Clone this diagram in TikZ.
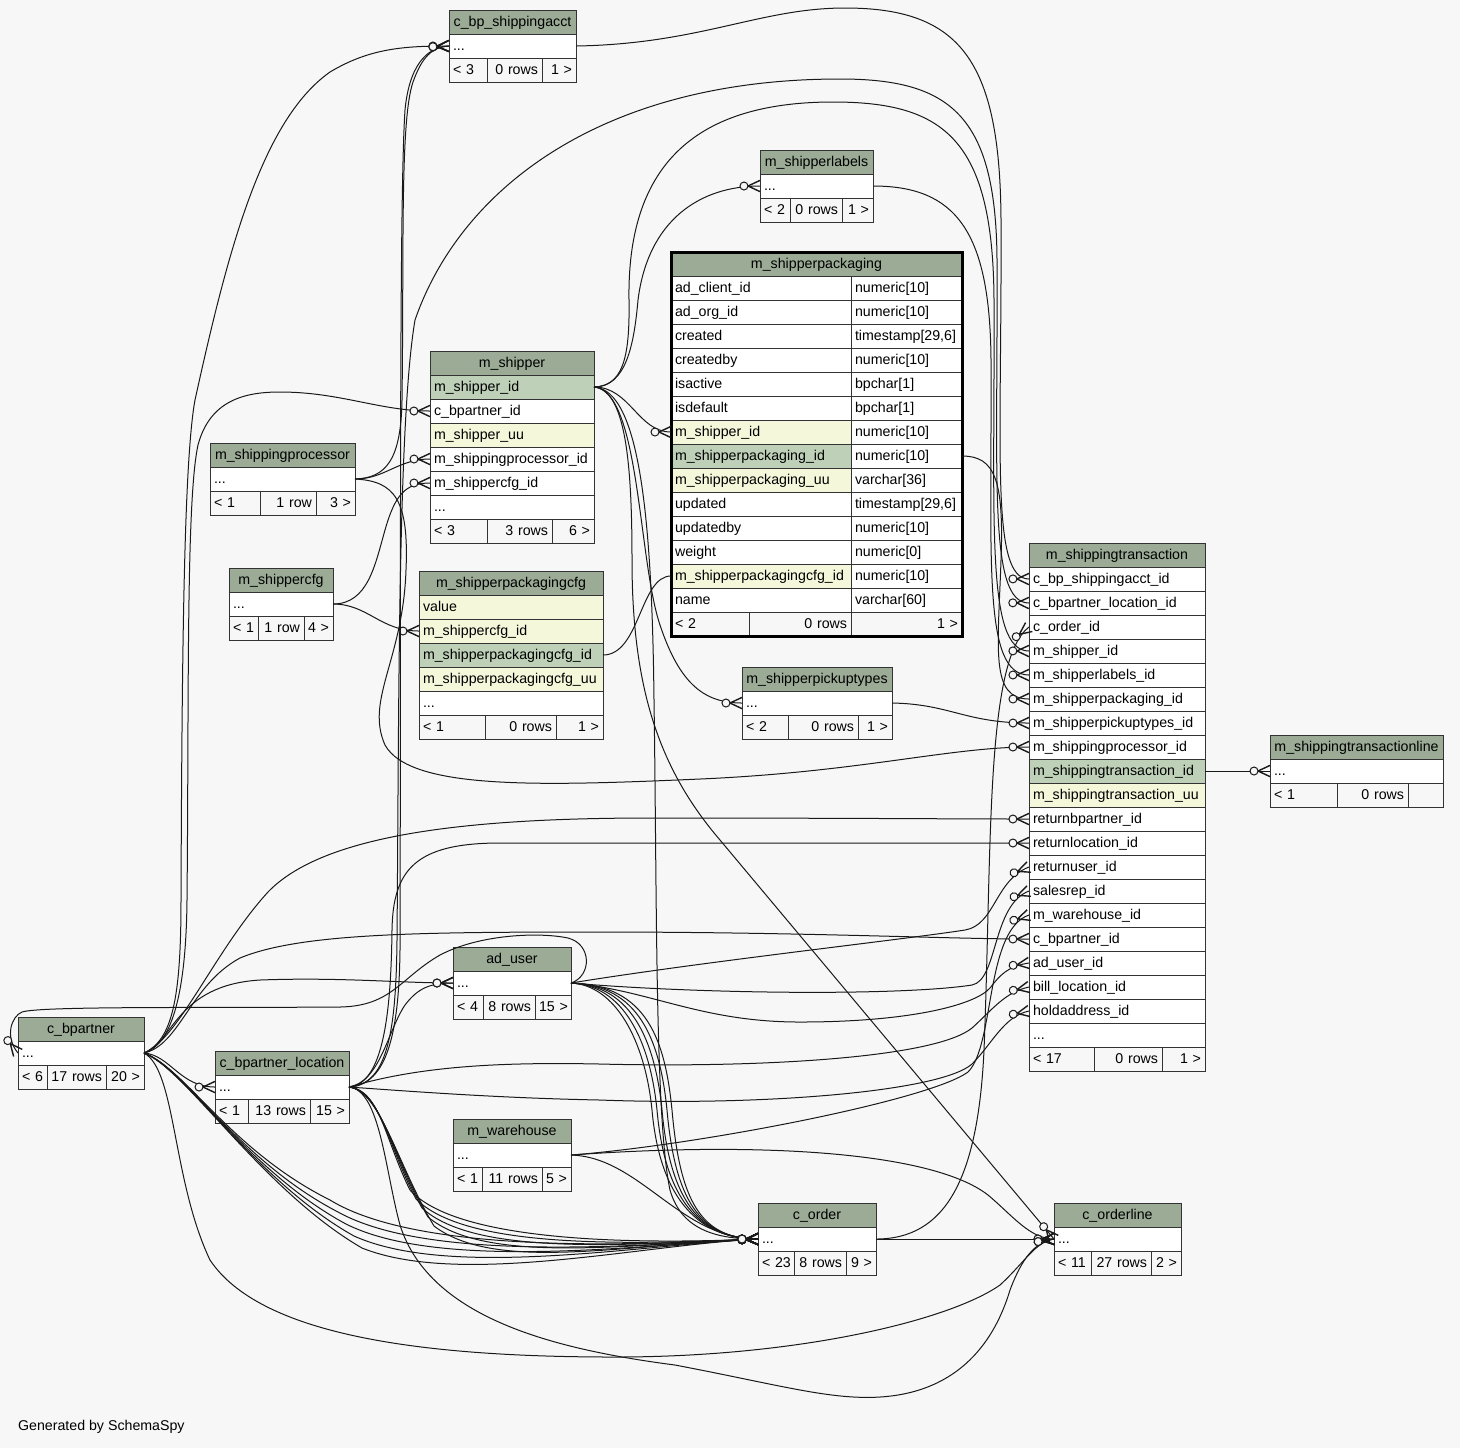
\documentclass[tikz,border=0pt]{standalone}
\usepackage{fontspec}
\setmainfont{Liberation Sans}
\usepackage{xcolor}
\usetikzlibrary{positioning,fit,backgrounds,decorations.markings}
\definecolor{bgcol}{HTML}{F7F7F7}
\definecolor{hdrgreen}{HTML}{9BAB96}
\definecolor{pkgreen}{HTML}{BED1B8}
\definecolor{idxyellow}{HTML}{F4F7DA}
% zero-or-many end of a foreign key
\newcommand\crowfoot{%
  \draw[line width=0.7pt] (-6pt,0pt) -- (0pt,2.8pt) (-6pt,0pt) -- (0pt,-2.8pt);
  \draw[line width=0.5pt, fill=bgcol] (-8pt,0pt) circle (2pt);}
\tikzset{
  tbl/.style={draw=black!80, line width=0.5pt, minimum height=12pt, inner xsep=2pt,
              inner ysep=0pt, outer sep=0pt, text height=5.8pt, text depth=1.3pt},
  colw/.style={text width=#1-4pt},
  hdr/.style={tbl, fill=hdrgreen, align=center},
  col/.style={tbl, fill=white, align=left},
  ftl/.style={tbl, fill=bgcol, align=left},
  ftr/.style={tbl, fill=bgcol, align=right},
  fk/.style={draw=black!90, line width=0.5pt, postaction={decorate},
             decoration={markings, mark=at position 0.9999 with {\crowfoot}}}
}
\begin{document}
\begin{tikzpicture}[x=0.5pt, y=-0.5pt, font=\fontsize{7.1}{8.5}\selectfont]
\useasboundingbox (0,0) rectangle (1460,1448);
\begin{scope}[on background layer]
  \fill[bgcol] (0,0) rectangle (1460,1448);
\end{scope}

% c_bp_shippingacct
\node[hdr, colw=63.5pt, anchor=north west] (sa-h) at (449,10) {c\_bp\_shippingacct};
\node[col, colw=63.5pt, below=0pt of sa-h] (sa-r) {...};
\node[ftl, colw=19pt, anchor=north west] (sa-f1) at (sa-r.south west) {<~3};
\node[ftr, colw=27.5pt, right=0pt of sa-f1] (sa-f2) {0~rows};
\node[ftr, colw=17pt, right=0pt of sa-f2] (sa-f3) {1~>};

% m_shipperlabels
\node[hdr, colw=56.5pt, anchor=north west] (lb-h) at (760,150) {m\_shipperlabels};
\node[col, colw=56.5pt, below=0pt of lb-h] (lb-r) {...};
\node[ftl, colw=15pt, anchor=north west] (lb-f1) at (lb-r.south west) {<~2};
\node[ftr, colw=26pt, right=0pt of lb-f1] (lb-f2) {0~rows};
\node[ftr, colw=15.5pt, right=0pt of lb-f2] (lb-f3) {1~>};

% m_shipperpackaging (selected table)
\node[hdr, colw=145.5pt, anchor=north west] (pk-h) at (671,252) {m\_shipperpackaging};
\foreach \a/\b/\f [count=\i] in {ad\_client\_id/numeric[10]/white, ad\_org\_id/numeric[10]/white,
    created/{timestamp[29,6]}/white, createdby/numeric[10]/white, isactive/bpchar[1]/white,
    isdefault/bpchar[1]/white, m\_shipper\_id/numeric[10]/idxyellow,
    m\_shipperpackaging\_id/numeric[10]/pkgreen, m\_shipperpackaging\_uu/varchar[36]/idxyellow,
    updated/{timestamp[29,6]}/white, updatedby/numeric[10]/white, weight/numeric[0]/white,
    m\_shipperpackagingcfg\_id/numeric[10]/idxyellow, name/varchar[60]/white} {
  \node[col, colw=90pt, fill=\f, anchor=north west] (pk-a\i) at (671,{276+24*(\i-1)}) {\a};
  \node[col, colw=55.5pt, right=0pt of pk-a\i] (pk-b\i) {\b};
}
\node[ftl, colw=39pt, anchor=north west] (pk-f1) at (pk-a14.south west) {<~2};
\node[ftr, colw=51pt, right=0pt of pk-f1] (pk-f2) {0~rows};
\node[ftr, colw=55.5pt, right=0pt of pk-f2] (pk-f3) {1~>};
\node[draw=black, line width=1.5pt, inner sep=0pt, fit=(pk-h)(pk-f3)] (pk-frame) {};

% m_shipper
\node[hdr, colw=82pt, anchor=north west] (sh-h) at (430,351) {m\_shipper};
\node[col, colw=82pt, fill=pkgreen, below=0pt of sh-h] (sh-id) {m\_shipper\_id};
\node[col, colw=82pt, below=0pt of sh-id] (sh-bp) {c\_bpartner\_id};
\node[col, colw=82pt, fill=idxyellow, below=0pt of sh-bp] (sh-uu) {m\_shipper\_uu};
\node[col, colw=82pt, below=0pt of sh-uu] (sh-proc) {m\_shippingprocessor\_id};
\node[col, colw=82pt, below=0pt of sh-proc] (sh-cfg) {m\_shippercfg\_id};
\node[col, colw=82pt, below=0pt of sh-cfg] (sh-r) {...};
\node[ftl, colw=28.5pt, anchor=north west] (sh-f1) at (sh-r.south west) {<~3};
\node[ftr, colw=32.5pt, right=0pt of sh-f1] (sh-f2) {3~rows};
\node[ftr, colw=21pt, right=0pt of sh-f2] (sh-f3) {6~>};

% m_shippingprocessor
\node[hdr, colw=72.5pt, anchor=north west] (pr-h) at (210,443) {m\_shippingprocessor};
\node[col, colw=72.5pt, below=0pt of pr-h] (pr-r) {...};
\node[ftl, colw=25pt, anchor=north west] (pr-f1) at (pr-r.south west) {<~1};
\node[ftr, colw=28pt, right=0pt of pr-f1] (pr-f2) {1~row};
\node[ftr, colw=19.5pt, right=0pt of pr-f2] (pr-f3) {3~>};

% m_shippercfg
\node[hdr, colw=52pt, anchor=north west] (cf-h) at (229,568) {m\_shippercfg};
\node[col, colw=52pt, below=0pt of cf-h] (cf-r) {...};
\node[ftl, colw=14.5pt, anchor=north west] (cf-f1) at (cf-r.south west) {<~1};
\node[ftr, colw=23pt, right=0pt of cf-f1] (cf-f2) {1~row};
\node[ftr, colw=14.5pt, right=0pt of cf-f2] (cf-f3) {4~>};

% m_shipperpackagingcfg
\node[hdr, colw=92pt, anchor=north west] (pc-h) at (419,571) {m\_shipperpackagingcfg};
\node[col, colw=92pt, fill=idxyellow, below=0pt of pc-h] (pc-value) {value};
\node[col, colw=92pt, fill=idxyellow, below=0pt of pc-value] (pc-cfg) {m\_shippercfg\_id};
\node[col, colw=92pt, fill=pkgreen, below=0pt of pc-cfg] (pc-id) {m\_shipperpackagingcfg\_id};
\node[col, colw=92pt, fill=idxyellow, below=0pt of pc-id] (pc-uu) {m\_shipperpackagingcfg\_uu};
\node[col, colw=92pt, below=0pt of pc-uu] (pc-r) {...};
\node[ftl, colw=33pt, anchor=north west] (pc-f1) at (pc-r.south west) {<~1};
\node[ftr, colw=35.5pt, right=0pt of pc-f1] (pc-f2) {0~rows};
\node[ftr, colw=23.5pt, right=0pt of pc-f2] (pc-f3) {1~>};

% m_shipperpickuptypes
\node[hdr, colw=75pt, anchor=north west] (pu-h) at (742,667) {m\_shipperpickuptypes};
\node[col, colw=75pt, below=0pt of pu-h] (pu-r) {...};
\node[ftl, colw=23pt, anchor=north west] (pu-f1) at (pu-r.south west) {<~2};
\node[ftr, colw=35pt, right=0pt of pu-f1] (pu-f2) {0~rows};
\node[ftr, colw=17pt, right=0pt of pu-f2] (pu-f3) {1~>};

% m_shippingtransaction
\node[hdr, colw=88pt, anchor=north west] (st-h) at (1029,543) {m\_shippingtransaction};
\foreach \n/\f/\t [count=\i] in {cbpacct/white/c\_bp\_shippingacct\_id, cbploc/white/c\_bpartner\_location\_id,
    order/white/c\_order\_id, shipper/white/m\_shipper\_id, labels/white/m\_shipperlabels\_id,
    pkg/white/m\_shipperpackaging\_id, pickup/white/m\_shipperpickuptypes\_id,
    proc/white/m\_shippingprocessor\_id, stid/pkgreen/m\_shippingtransaction\_id,
    stuu/idxyellow/m\_shippingtransaction\_uu, retbp/white/returnbpartner\_id,
    retloc/white/returnlocation\_id, retuser/white/returnuser\_id, salesrep/white/salesrep\_id,
    wh/white/m\_warehouse\_id, bp/white/c\_bpartner\_id, aduser/white/ad\_user\_id,
    bill/white/bill\_location\_id, hold/white/holdaddress\_id}
  \node[col, colw=88pt, fill=\f, anchor=north west] (st-\n) at (1029,{567+24*(\i-1)}) {\t};
\node[col, colw=88pt, below=0pt of st-hold] (st-r) {...};
\node[ftl, colw=32.5pt, anchor=north west] (st-f1) at (st-r.south west) {<~17};
\node[ftr, colw=34pt, right=0pt of st-f1] (st-f2) {0~rows};
\node[ftr, colw=21.5pt, right=0pt of st-f2] (st-f3) {1~>};

% m_shippingtransactionline
\node[hdr, colw=86.5pt, anchor=north west] (tl-h) at (1270,735) {m\_shippingtransactionline};
\node[col, colw=86.5pt, below=0pt of tl-h] (tl-r) {...};
\node[ftl, colw=33.5pt, anchor=north west] (tl-f1) at (tl-r.south west) {<~1};
\node[ftr, colw=35.5pt, right=0pt of tl-f1] (tl-f2) {0~rows};
\node[ftr, colw=17.5pt, right=0pt of tl-f2] (tl-f3) {};

% c_bpartner
\node[hdr, colw=63pt, anchor=north west] (bp-h) at (18,1017) {c\_bpartner};
\node[col, colw=63pt, below=0pt of bp-h] (bp-r) {...};
\node[ftl, colw=14.5pt, anchor=north west] (bp-f1) at (bp-r.south west) {<~6};
\node[ftr, colw=29.5pt, right=0pt of bp-f1] (bp-f2) {17~rows};
\node[ftr, colw=19pt, right=0pt of bp-f2] (bp-f3) {20~>};

% c_bpartner_location
\node[hdr, colw=67pt, anchor=north west] (bl-h) at (215,1051) {c\_bpartner\_location};
\node[col, colw=67pt, below=0pt of bl-h] (bl-r) {...};
\node[ftl, colw=16.5pt, anchor=north west] (bl-f1) at (bl-r.south west) {<~1};
\node[ftr, colw=31pt, right=0pt of bl-f1] (bl-f2) {13~rows};
\node[ftr, colw=19.5pt, right=0pt of bl-f2] (bl-f3) {15~>};

% ad_user
\node[hdr, colw=59pt, anchor=north west] (au-h) at (453,947) {ad\_user};
\node[col, colw=59pt, below=0pt of au-h] (au-r) {...};
\node[ftl, colw=15pt, anchor=north west] (au-f1) at (au-r.south west) {<~4};
\node[ftr, colw=26pt, right=0pt of au-f1] (au-f2) {8~rows};
\node[ftr, colw=18pt, right=0pt of au-f2] (au-f3) {15~>};

% m_warehouse
\node[hdr, colw=59pt, anchor=north west] (wh-h) at (453,1119) {m\_warehouse};
\node[col, colw=59pt, below=0pt of wh-h] (wh-r) {...};
\node[ftl, colw=14.5pt, anchor=north west] (wh-f1) at (wh-r.south west) {<~1};
\node[ftr, colw=30pt, right=0pt of wh-f1] (wh-f2) {11~rows};
\node[ftr, colw=14.5pt, right=0pt of wh-f2] (wh-f3) {5~>};

% c_order
\node[hdr, colw=59pt, anchor=north west] (co-h) at (758,1203) {c\_order};
\node[col, colw=59pt, below=0pt of co-h] (co-r) {...};
\node[ftl, colw=18pt, anchor=north west] (co-f1) at (co-r.south west) {<~23};
\node[ftr, colw=26pt, right=0pt of co-f1] (co-f2) {8~rows};
\node[ftr, colw=15pt, right=0pt of co-f2] (co-f3) {9~>};

% c_orderline
\node[hdr, colw=63.5pt, anchor=north west] (ol-h) at (1054,1203) {c\_orderline};
\node[col, colw=63.5pt, below=0pt of ol-h] (ol-r) {...};
\node[ftl, colw=18.5pt, anchor=north west] (ol-f1) at (ol-r.south west) {<~11};
\node[ftr, colw=30pt, right=0pt of ol-f1] (ol-f2) {27~rows};
\node[ftr, colw=15pt, right=0pt of ol-f2] (ol-f3) {2~>};

\node[anchor=west] (credit) at (11,1427) {Generated by SchemaSpy};

% into m_shippingtransaction
\draw[fk] (sa-r.east) .. controls (700,44) and (760,8) .. (845,8) .. controls (960,8) and (1000,60) .. (1001,220) .. controls (1002,450) and (990,579) .. (st-cbpacct.west);
\draw[fk] (bl-r.east) .. controls (388,1085) and (396,1030) .. (397,940) .. controls (399,700) and (398,420) .. (415,320) .. controls (460,190) and (600,79) .. (840,79) .. controls (950,79) and (996,115) .. (997,260) .. controls (998,480) and (988,603) .. (st-cbploc.west);
\draw[fk] (co-r.east) .. controls (945,1239) and (978,1180) .. (984,1050) .. controls (992,850) and (985,660) .. (st-order.west);
\draw[fk] (sh-id.east) .. controls (622,386) and (630,360) .. (629,300) .. controls (627,170) and (690,102) .. (833,102) .. controls (945,102) and (993,140) .. (994,300) .. controls (995,520) and (985,651) .. (st-shipper.west);
\draw[fk] (lb-r.east) .. controls (955,186) and (990,230) .. (991,360) .. controls (992,560) and (982,675) .. (st-labels.west);
\draw[fk] (pk-b8.east) .. controls (995,456) and (1004,480) .. (1001,560) .. controls (998,650) and (990,699) .. (st-pkg.west);
\draw[fk] (pu-r.east) .. controls (950,704) and (965,723) .. (st-pickup.west);
\draw[fk] (pr-r.east) .. controls (395,481) and (409,500) .. (406,570) .. controls (403,660) and (365,700) .. (385,745) .. controls (410,790) and (540,786) .. (700,779) .. controls (860,772) and (950,747) .. (st-proc.west);
\draw[fk] (st-stid.east) -- (tl-r.west);
\draw[fk] (bp-r.east) .. controls (178,1040) and (215,950) .. (268,892) .. controls (320,838) and (450,818) .. (650,818) .. controls (850,818) and (950,819) .. (st-retbp.west);
\draw[fk] (bl-r.east) .. controls (384,1084) and (391,1010) .. (392,930) .. controls (393,870) and (415,843) .. (500,843) .. controls (700,843) and (900,843) .. (st-retloc.west);
\draw[fk] (au-r.east) .. controls (700,962) and (900,940) .. (965,930) .. controls (995,925) and (995,880) .. (st-retuser.west);
\draw[fk] (au-r.east) .. controls (700,994) and (900,996) .. (972,985) .. controls (998,980) and (992,905) .. (st-salesrep.west);
\draw[fk] (wh-r.east) .. controls (700,1145) and (930,1100) .. (968,1072) .. controls (995,1045) and (985,930) .. (st-wh.west);
\draw[fk] (bp-r.east) .. controls (180,1045) and (190,985) .. (240,958) .. controls (300,933) and (420,932) .. (600,932) .. controls (800,932) and (950,939) .. (st-bp.west);
\draw[fk] (au-r.east) .. controls (650,990) and (700,1022) .. (800,1022) .. controls (910,1022) and (975,1005) .. (990,988) .. controls (1000,975) and (1008,966) .. (st-aduser.west);
\draw[fk] (bl-r.east) .. controls (420,1066) and (500,1062) .. (600,1064) .. controls (760,1068) and (935,1058) .. (972,1028) .. controls (992,1010) and (1005,992) .. (st-bill.west);
\draw[fk] (bl-r.east) .. controls (420,1092) and (500,1098) .. (600,1100) .. controls (760,1106) and (940,1092) .. (972,1064) .. controls (992,1044) and (1004,1016) .. (st-hold.west);

% m_shipper and its neighbours
\draw[fk] (sh-id.east) .. controls (626,387) and (634,345) .. (638,300) .. controls (648,220) and (700,186) .. (lb-r.west);
\draw[fk] (sh-id.east) .. controls (630,387) and (638,432) .. (pk-a7.west);
\draw[fk] (sh-id.east) .. controls (640,390) and (638,560) .. (660,625) .. controls (680,685) and (705,703) .. (pu-r.west);
\draw[fk] (sh-id.east) .. controls (640,390) and (652,520) .. (654,700) .. controls (657,900) and (655,1120) .. (670,1190) .. controls (682,1232) and (720,1239) .. (co-r.west);
\draw[fk] (sh-id.east) .. controls (625,390) and (632,460) .. (632,560) .. controls (632,690) and (660,770) .. (720,840) -- (ol-r.west);
\draw[fk] (pc-id.east) .. controls (640,655) and (640,576) .. (pk-a13.west);
\draw[fk] (pr-r.east) .. controls (385,479) and (398,459) .. (sh-proc.west);
\draw[fk] (cf-r.east) .. controls (368,604) and (375,565) .. (385,530) .. controls (395,495) and (405,483) .. (sh-cfg.west);
\draw[fk] (cf-r.east) .. controls (368,604) and (380,631) .. (pc-cfg.west);
\draw[fk] (bp-r.east) .. controls (170,1045) and (186,1000) .. (187,900) .. controls (189,700) and (186,500) .. (198,445) .. controls (210,400) and (245,392) .. (280,392) .. controls (340,392) and (380,411) .. (sh-bp.west);

% into c_bp_shippingacct
\draw[fk] (bp-r.east) .. controls (172,1040) and (181,1000) .. (181,900) .. controls (182,650) and (184,460) .. (195,400) .. controls (228,250) and (262,120) .. (330,72) .. controls (370,48) and (405,46) .. (sa-r.west);
\draw[fk] (pr-r.east) .. controls (386,478) and (401,460) .. (402,400) .. controls (404,250) and (400,120) .. (413,82) .. controls (422,57) and (432,47) .. (sa-r.west);
\draw[fk] (bl-r.east) .. controls (388,1085) and (399,1030) .. (400,950) .. controls (401,600) and (399,200) .. (405,110) .. controls (409,68) and (425,47) .. (sa-r.west);

% ad_user, c_bpartner_location, c_bpartner
\draw[fk] (bp-r.east) .. controls (172,1045) and (175,985) .. (260,980) .. controls (340,977) and (400,983) .. (au-r.west);
\draw[fk] (bl-r.east) .. controls (380,1082) and (388,1030) .. (405,1005) .. controls (418,988) and (430,983) .. (au-r.west);
\draw[fk] (au-r.east) .. controls (592,976) and (592,944) .. (568,938) .. controls (540,932) and (480,934) .. (440,955) .. controls (400,978) and (392,1006) .. (340,1007) .. controls (200,1008) and (40,1006) .. (22,1012) .. controls (12,1016) and (4,1036) .. (bp-r.west);
\draw[fk] (bp-r.east) .. controls (170,1055) and (180,1087) .. (bl-r.west);

% into c_order
\foreach \i in {0,...,4}
  \draw[fk] (bp-r.east) .. controls (185,1068) and ({230+8*\i},{1150+10*\i}) .. ({330+8*\i},{1200+12*\i}) .. controls ({420+10*\i},{1255+8*\i}) and (640,1245) .. (co-r.west);
\foreach \i in {0,...,4}
  \draw[fk] (bl-r.east) .. controls (380,1090) and ({385+3*\i},{1140+6*\i}) .. ({410+6*\i},{1190+9*\i}) .. controls ({455+10*\i},{1240+8*\i}) and (620,1245) .. (co-r.west);
\foreach \i in {0,...,4}
  \draw[fk] (au-r.east) .. controls ({615+8*\i},985) and ({645+5*\i},1040) .. ({652+5*\i},1110) .. controls ({660+5*\i},1200) and (700,1239) .. (co-r.west);
\draw[fk] (wh-r.east) .. controls (640,1157) and (680,1239) .. (co-r.west);

% into c_orderline
\draw[fk] (co-r.east) -- (ol-r.west);
\draw[fk] (wh-r.east) .. controls (750,1142) and (930,1150) .. (988,1195) .. controls (1012,1215) and (1030,1239) .. (ol-r.west);
\draw[fk] (bp-r.east) .. controls (176,1070) and (172,1180) .. (210,1260) .. controls (260,1335) and (420,1357) .. (615,1357) .. controls (800,1357) and (950,1320) .. (1000,1285) .. controls (1025,1262) and (1035,1242) .. (ol-r.west);
\draw[fk] (bl-r.east) .. controls (380,1090) and (385,1170) .. (400,1225) .. controls (430,1320) and (560,1350) .. (675,1365) .. controls (780,1385) and (830,1400) .. (880,1397) .. controls (960,1392) and (995,1340) .. (1010,1290) .. controls (1022,1258) and (1035,1242) .. (ol-r.west);
\end{tikzpicture}
\end{document}
